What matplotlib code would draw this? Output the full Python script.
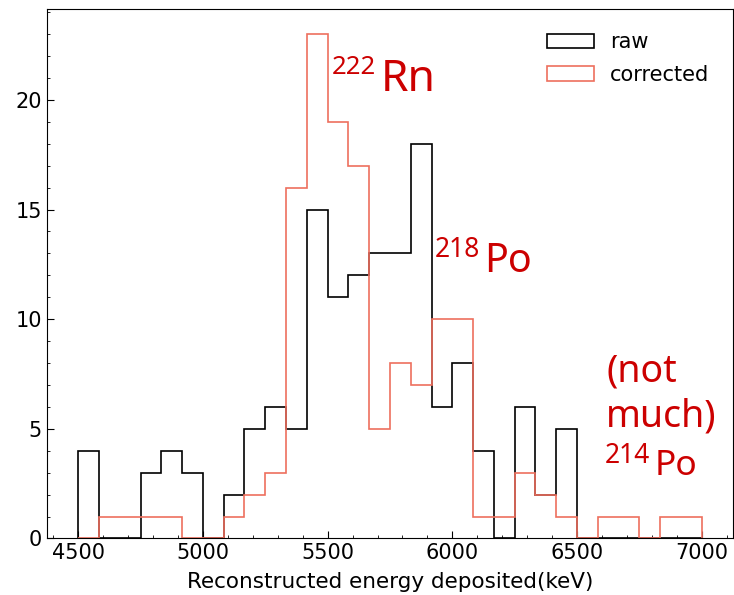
import numpy as np
import matplotlib
matplotlib.use('Agg')
import matplotlib.pyplot as plt
from matplotlib.ticker import AutoMinorLocator


bin_edges = np.linspace(4500, 7000, 31)

raw_counts = [4, 0, 0, 3, 4, 3, 0, 2, 5, 6,
              5, 15, 11, 12, 13, 13, 18, 6, 8, 4,
              0, 6, 2, 5, 0, 0, 0, 0, 0, 0]

corrected_counts = [0, 1, 1, 1, 1, 0, 0, 1, 2, 3,
                    16, 23, 19, 17, 5, 8, 7, 10, 10, 1,
                    1, 3, 2, 1, 0, 1, 1, 0, 1, 1]

series_labels = ['raw', 'corrected']
series_colors = ['black', '#ee6f5e']

annot_color = '#cc0000'
annot_font = 'Noto Sans'


def isotope_label(ax, x, y, mass, symbol, size, sup_size, rise, gap=5):
    ax.text(x, y, symbol, fontsize=size, color=annot_color,
            family=annot_font, ha='left', va='baseline')
    ax.annotate(mass, xy=(x, y), xytext=(-gap, rise),
                textcoords='offset pixels', ha='right', va='baseline',
                fontsize=sup_size, color=annot_color, family=annot_font)


def main():
    centers = 0.5 * (bin_edges[:-1] + bin_edges[1:])

    fig = plt.figure(figsize=(7.34, 5.95), dpi=100)
    ax = fig.add_axes([0.064, 0.095, 0.9346, 0.89])

    for counts, label, color in zip([raw_counts, corrected_counts],
                                    series_labels, series_colors):
        ax.hist(centers, bins=bin_edges, weights=counts, histtype='step',
                color=color, label=label, linewidth=1.2)

    top = max(max(raw_counts), max(corrected_counts))
    ax.set_xlim(4375, 7125)
    ax.set_ylim(0, top * 1.05)
    ax.set_xticks([4500, 5000, 5500, 6000, 6500, 7000])
    ax.set_yticks([0, 5, 10, 15, 20])
    ax.xaxis.set_minor_locator(AutoMinorLocator(5))
    ax.yaxis.set_minor_locator(AutoMinorLocator(5))
    ax.tick_params(which='both', direction='in', labelsize=15)
    ax.tick_params(which='major', length=5)
    ax.tick_params(which='minor', length=2.5)
    ax.set_xlabel('Reconstructed energy deposited(keV)', fontsize=15.5,
                  labelpad=6)

    ax.legend(loc='upper right', bbox_to_anchor=(0.978, 0.972),
              borderaxespad=0, frameon=False, fontsize=15,
              handlelength=2.25, labelspacing=0.6)

    isotope_label(ax, 5713, 20.4, '222', 'Rn', 32, 18.5, 17)
    isotope_label(ax, 6129, 12.17, '218', 'Po', 28.5, 19, 15, gap=4)
    ax.text(6616, 7.15, '(not', fontsize=27, color=annot_color,
            family=annot_font, ha='left', va='baseline')
    ax.text(6616, 5.10, 'much)', fontsize=27, color=annot_color,
            family=annot_font, ha='left', va='baseline')
    isotope_label(ax, 6812, 2.9, '214', 'Po', 25.5, 19, 12)

    fig.savefig('out.png', dpi=100)


if __name__ == '__main__':
    main()
